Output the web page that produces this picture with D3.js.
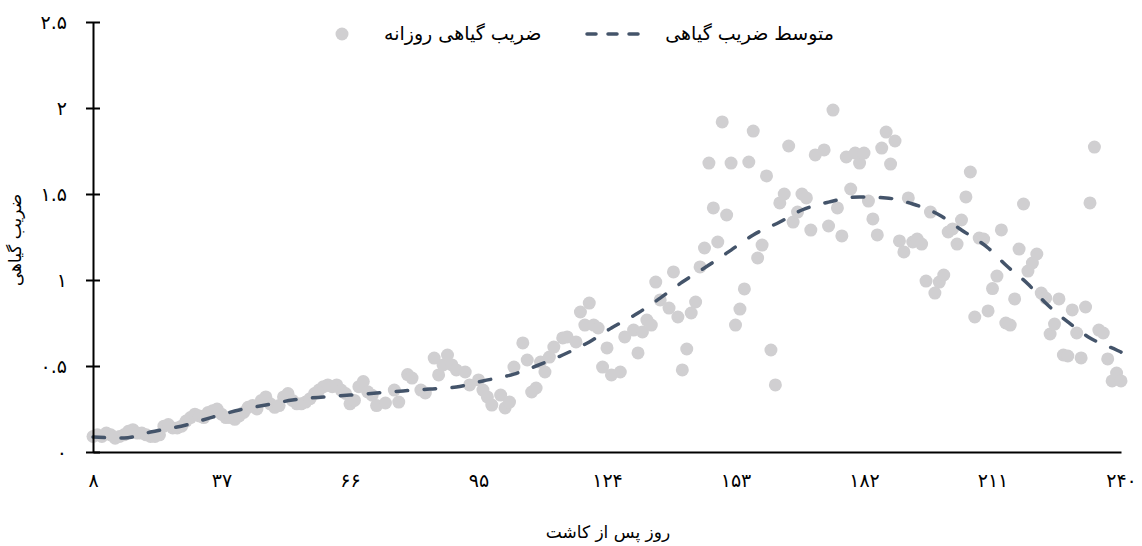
<!DOCTYPE html>
<html>
<head>
<meta charset="utf-8">
<script src="https://cdn.jsdelivr.net/npm/d3@7"></script>
<style>
  body { margin: 0; background: #fff; }
  svg { display: block; }
  text { font-family: "DejaVu Sans", sans-serif; fill: #000; }
</style>
</head>
<body>
<svg id="chart" width="1142" height="546"></svg>
<script>
// Daily crop coefficient observations (day after planting, Kc)
const obsDay = [
  8,9,10,11,12,13,14,15,16,17,18,19,20,21,22,23,24,25,26,27,28,29,30,31,32,33,34,35,36,37,
  38,39,40,41,42,43,44,45,46,47,48,49,50,51,52,53,54,55,56,57,58,59,60,61,62,63,64,65,66,67,
  68,69,70,71,72,
  74,76,77,79,80,82,83,85,86,87,88,89,90,92,93,95,96,97,98,100,101,102,103,105,106,107,108,
  109,110,111,112,114,115,117,118,119,120,121,122,123,124,125,127,128,
  130,131,132,133,134,135,136,138,139,140,141,142,143,144,145,146,147,148,149,150,151,152,
  153,154,155,156,157,158,159,160,161,162,163,164,165,166,167,
  168,169,170,171,173,174,175,176,177,178,179,180,181,182,183,184,185,186,187,188,189,190,
  191,192,193,194,195,196,197,198,199,200,201,202,203,204,205,206,207,208,209,210,211,
  212,213,214,215,216,217,218,219,220,221,222,223,224,225,226,227,228,229,230,231,232,233,
  234,235,236,237,238,239,240
];
const obsKc = [
  0.09,0.10,0.09,0.11,0.10,0.08,0.09,0.10,0.12,0.13,0.11,0.11,0.10,0.09,0.09,0.10,0.15,0.16,0.14,0.14,
  0.15,0.18,0.20,0.22,0.21,0.20,0.23,0.24,0.25,0.22,0.20,0.20,0.19,0.21,0.23,0.26,0.27,0.25,0.30,0.32,
  0.28,0.26,0.27,0.32,0.34,0.30,0.28,0.28,0.29,0.31,0.34,0.36,0.38,0.39,0.38,0.39,0.36,0.34,0.28,0.30,
  0.38,0.41,0.35,0.33,0.27,
  0.285,0.36,0.29,0.45,0.43,0.36,0.343,0.546,0.448,0.506,0.564,0.506,0.477,0.465,0.39,0.419,0.36,0.32,
  0.273,0.331,0.256,0.29,0.494,0.634,0.535,0.349,0.372,
  0.523,0.465,0.552,0.61,0.663,0.669,0.64,0.814,0.738,0.866,0.738,0.721,0.494,0.605,0.448,0.465,0.669,
  0.709,0.576,0.698,0.767,0.738,0.988,0.884,0.837,1.047,0.785,0.477,0.599,0.808,0.872,1.076,1.186,
  1.68,1.419,1.221,1.919,1.378,1.68,
  0.738,0.831,0.948,1.686,1.866,1.128,1.203,1.605,0.593,0.39,1.448,1.5,1.779,1.337,1.395,
  1.5,1.477,1.29,1.727,1.756,1.314,1.988,1.419,1.256,1.715,1.529,1.738,1.68,1.738,1.459,1.355,1.262,
  1.767,1.86,1.674,1.808,1.227,
  1.163,1.477,1.221,1.238,1.209,0.994,1.395,0.924,0.988,1.029,1.279,1.297,1.209,1.349,1.483,1.628,
  0.785,1.244,1.238,0.82,0.95,
  1.023,1.291,0.75,0.738,0.89,1.18,1.442,1.052,1.099,1.151,0.924,0.895,0.686,0.744,0.89,0.564,0.558,
  0.826,0.692,0.547,0.843,1.448,
  1.773,0.709,0.692,0.541,0.413,0.459,0.413
];

// Smoothed mean crop coefficient
const meanDay = [8,15,21,29,35,41,47,53,60,66,72,78,84,90,96,103,108,114,120,125,131,136,141,147,
  152,157,163,168,174,181,187,193,199,204,210,214,219,223,228,233,239,240];
const meanKc = [0.087,0.081,0.116,0.157,0.203,0.244,0.273,0.302,0.320,0.331,0.343,0.355,0.366,0.378,
  0.413,0.453,0.500,0.564,0.640,0.721,0.808,0.895,0.988,1.087,1.174,1.262,1.337,1.407,1.453,1.483,
  1.477,1.442,1.378,1.291,1.186,1.087,0.977,0.866,0.756,0.663,0.593,0.581];

const xTicks = [8, 37, 66, 95, 124, 153, 182, 211, 240];
const yTicks = [0, 0.5, 1, 1.5, 2, 2.5];

const legendMean = "متوسط ضریب گیاهی";
const legendDaily = "ضریب گیاهی روزانه";
const xTitle = "روز پس از کاشت";
const yTitle = "ضریب گیاهی";

const pointColor = "#d0cfd1";
const lineColor = "#44546a";
const dash = "11.5,16.5";

// Persian digits for tick labels
const fa = v => String(v).replace(/\d/g, d => "۰۱۲۳۴۵۶۷۸۹"[d]);

const svg = d3.select("#chart");
const x = d3.scaleLinear().domain([8, 240]).range([93, 1121]);
const y = d3.scaleLinear().domain([0, 2.5]).range([452, 22]);

// Scatter of daily values
const obs = obsDay.map((d, i) => ({ day: d, kc: obsKc[i] }));
svg.append("g")
  .selectAll("circle")
  .data(obs)
  .join("circle")
  .attr("cx", d => x(d.day))
  .attr("cy", d => y(d.kc))
  .attr("r", 6.5)
  .attr("fill", pointColor);

// Mean curve
const mean = meanDay.map((d, i) => ({ day: d, kc: meanKc[i] }));
svg.append("path")
  .datum(mean)
  .attr("fill", "none")
  .attr("stroke", lineColor)
  .attr("stroke-width", 3.5)
  .attr("stroke-linecap", "round")
  .attr("stroke-dasharray", dash)
  .attr("d", d3.line().x(d => x(d.day)).y(d => y(d.kc)).curve(d3.curveMonotoneX));

// X axis
const gx = svg.append("g")
  .attr("transform", `translate(0,${y(0)})`)
  .call(d3.axisBottom(x).tickValues(xTicks).tickSize(0).tickSizeOuter(0).tickPadding(22).tickFormat(fa));
gx.select(".domain").attr("stroke", "#000").attr("stroke-width", 2);
gx.selectAll(".tick text").attr("font-size", 19).attr("font-family", "DejaVu Sans");

// Y axis with ticks crossing the line
const gy = svg.append("g")
  .attr("transform", `translate(${x(8)},0)`)
  .call(d3.axisLeft(y).tickValues(yTicks).tickSize(7).tickSizeOuter(0).tickPadding(19).tickFormat(fa));
gy.select(".domain").attr("stroke", "#000").attr("stroke-width", 2);
gy.selectAll(".tick line").attr("x1", -7).attr("x2", 7).attr("stroke", "#000").attr("stroke-width", 2);
gy.selectAll(".tick text").attr("font-size", 19).attr("font-family", "DejaVu Sans");

// Axis titles
svg.append("text")
  .attr("x", 608).attr("y", 538)
  .attr("text-anchor", "middle")
  .attr("font-size", 17)
  .text(xTitle);
svg.append("text")
  .attr("transform", "translate(21,240) rotate(-90)")
  .attr("text-anchor", "middle")
  .attr("font-size", 17)
  .text(yTitle);

// Legend
const lg = svg.append("g");
lg.append("circle").attr("cx", 342).attr("cy", 34).attr("r", 6.5).attr("fill", pointColor);
lg.append("text").attr("x", 384).attr("y", 40).attr("text-anchor", "start")
  .attr("font-size", 19).text(legendDaily);
lg.append("line").attr("x1", 587).attr("x2", 650).attr("y1", 34).attr("y2", 34)
  .attr("stroke", lineColor).attr("stroke-width", 3.5)
  .attr("stroke-linecap", "round").attr("stroke-dasharray", "9,12");
lg.append("text").attr("x", 834).attr("y", 40).attr("text-anchor", "end")
  .attr("font-size", 19).text(legendMean);
</script>
</body>
</html>
